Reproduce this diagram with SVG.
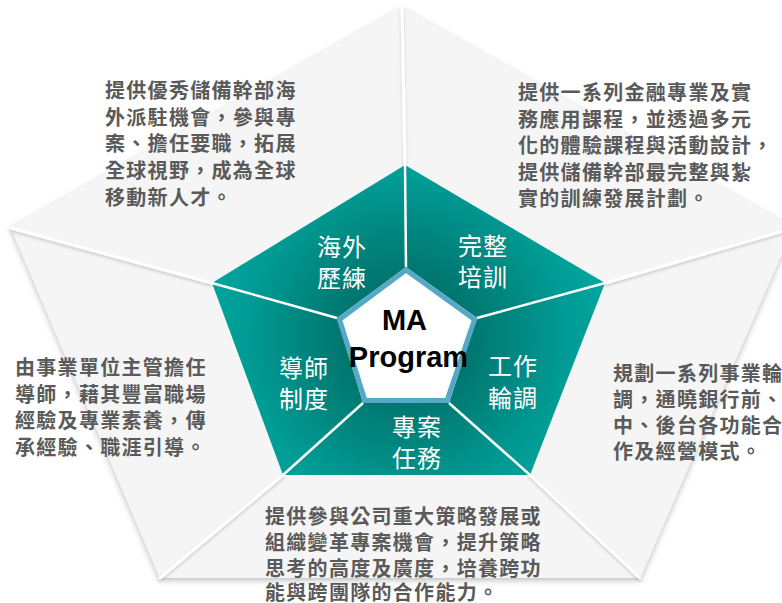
<svg xmlns="http://www.w3.org/2000/svg" width="782" height="603" viewBox="0 0 782 603" lang="zh-TW" xml:lang="zh-TW">
  <defs>
    <radialGradient id="teal" gradientUnits="userSpaceOnUse" cx="406" cy="338" r="215">
      <stop offset="0" stop-color="#00605A"/>
      <stop offset="0.4" stop-color="#007E77"/>
      <stop offset="0.75" stop-color="#009C95"/>
      <stop offset="1" stop-color="#00A8A0"/>
    </radialGradient>
    <filter id="shadow" x="-10%" y="-10%" width="120%" height="125%">
      <feDropShadow dx="0" dy="2" stdDeviation="3" flood-color="#000" flood-opacity="0.28"/>
    </filter>
    <filter id="lineShadow" x="-10%" y="-10%" width="120%" height="120%">
      <feDropShadow dx="0" dy="2" stdDeviation="1.5" flood-color="#000" flood-opacity="0.18"/>
    </filter>
    <style>
      .outer { fill: #F5F5F5; }
      .seg { fill: url(#teal); }
      .div-out { stroke: #FFFFFF; stroke-width: 3; fill: none; stroke-linecap: round; }
      .div-in { stroke: #FFFFFF; stroke-width: 2.5; fill: none; }
      .label { font-family: "Noto Sans CJK TC", "Noto Sans", sans-serif; font-size: 24px; fill: #FFFFFF; letter-spacing: 1px; }
      .desc { font-family: "Noto Sans CJK TC", "Noto Sans", sans-serif; font-size: 20px; font-weight: bold; fill: #5A5A5A; letter-spacing: 1.3px; }
      .center-text { font-family: "Liberation Sans", Arial, sans-serif; font-size: 29px; font-weight: bold; fill: #000000; text-anchor: middle; }
    </style>
  </defs>

  <rect x="0" y="0" width="782" height="603" fill="#FFFFFF"/>

  <polygon points="402,8 793,228 640,578 160,578 11,228" fill="#F5F5F5" filter="url(#shadow)"/>

  <g id="node-overseas">
    <polygon class="outer" points="402,8 405,165 212,283 11,228"/>
    <polygon class="seg" points="405,165 406,267 337,318 212,283"/>
    <text class="label" x="317" y="255.5">海外</text>
    <text class="label" x="317" y="286.5">歷練</text>
    <text class="desc">
      <tspan x="105" y="98">提供優秀儲備幹部海</tspan>
      <tspan x="105" y="124.7">外派駐機會，參與專</tspan>
      <tspan x="105" y="151.4">案、擔任要職，拓展</tspan>
      <tspan x="105" y="178">全球視野，成為全球</tspan>
      <tspan x="105" y="204.8">移動新人才。</tspan>
    </text>
  </g>

  <g id="node-training">
    <polygon class="outer" points="402,8 793,228 605,283 405,165"/>
    <polygon class="seg" points="405,165 605,283 477,318 406,267"/>
    <text class="label" x="458" y="254.5">完整</text>
    <text class="label" x="458" y="285.5">培訓</text>
    <text class="desc">
      <tspan x="518" y="100">提供一系列金融專業及實</tspan>
      <tspan x="518" y="126.5">務應用課程，並透過多元</tspan>
      <tspan x="518" y="153">化的體驗課程與活動設計，</tspan>
      <tspan x="518" y="179.5">提供儲備幹部最完整與紮</tspan>
      <tspan x="518" y="206">實的訓練發展計劃。</tspan>
    </text>
  </g>

  <g id="node-rotation">
    <polygon class="outer" points="793,228 640,578 530,475 605,283"/>
    <polygon class="seg" points="605,283 530,475 449,403 477,318"/>
    <text class="label" x="488" y="375">工作</text>
    <text class="label" x="488" y="406.5">輪調</text>
    <text class="desc">
      <tspan x="613" y="381">規劃一系列事業輪</tspan>
      <tspan x="613" y="407">調，通曉銀行前、</tspan>
      <tspan x="613" y="433">中、後台各功能合</tspan>
      <tspan x="613" y="459">作及經營模式。</tspan>
    </text>
  </g>

  <g id="node-project">
    <polygon class="outer" points="640,578 160,578 283,475 530,475"/>
    <polygon class="seg" points="530,475 283,475 363,403 449,403"/>
    <text class="label" x="392" y="435.5">專案</text>
    <text class="label" x="392" y="466.5">任務</text>
  </g>

  <g id="node-mentor">
    <polygon class="outer" points="160,578 11,228 212,283 283,475"/>
    <polygon class="seg" points="283,475 212,283 337,318 363,403"/>
    <text class="label" x="279" y="376.5">導師</text>
    <text class="label" x="279" y="408">制度</text>
    <text class="desc">
      <tspan x="15" y="375">由事業單位主管擔任</tspan>
      <tspan x="15" y="401.5">導師，藉其豐富職場</tspan>
      <tspan x="15" y="428">經驗及專業素養，傳</tspan>
      <tspan x="15" y="454.5">承經驗、職涯引導。</tspan>
    </text>
  </g>

  <g id="connectors">
    <g filter="url(#lineShadow)">
      <line class="div-out" x1="405" y1="165" x2="402" y2="8"/>
      <line class="div-out" x1="212" y1="283" x2="11" y2="228"/>
      <line class="div-out" x1="605" y1="283" x2="793" y2="228"/>
      <line class="div-out" x1="283" y1="475" x2="160" y2="578"/>
      <line class="div-out" x1="530" y1="475" x2="640" y2="578"/>
    </g>
    <line class="div-in" x1="406" y1="267" x2="405" y2="165"/>
    <line class="div-in" x1="337" y1="318" x2="212" y2="283"/>
    <line class="div-in" x1="477" y1="318" x2="605" y2="283"/>
    <line class="div-in" x1="363" y1="403" x2="283" y2="475"/>
    <line class="div-in" x1="449" y1="403" x2="530" y2="475"/>
  </g>

  <g id="node-project-text">
    <text class="desc">
      <tspan x="265" y="523.5">提供參與公司重大策略發展或</tspan>
      <tspan x="265" y="549.5">組織變革專案機會，提升策略</tspan>
      <tspan x="265" y="575.5">思考的高度及廣度，培養跨功</tspan>
      <tspan x="265" y="600">能與跨團隊的合作能力。</tspan>
    </text>
  </g>

  <g id="node-center">
    <polygon points="406,270 474.5,319.5 447,400.5 365,400.5 339.5,319.5" fill="#FFFFFF" stroke="#55A9C6" stroke-width="5" stroke-linejoin="miter"/>
    <text class="center-text" x="404.5" y="330">MA</text>
    <text class="center-text" x="408.5" y="367">Program</text>
  </g>
</svg>
